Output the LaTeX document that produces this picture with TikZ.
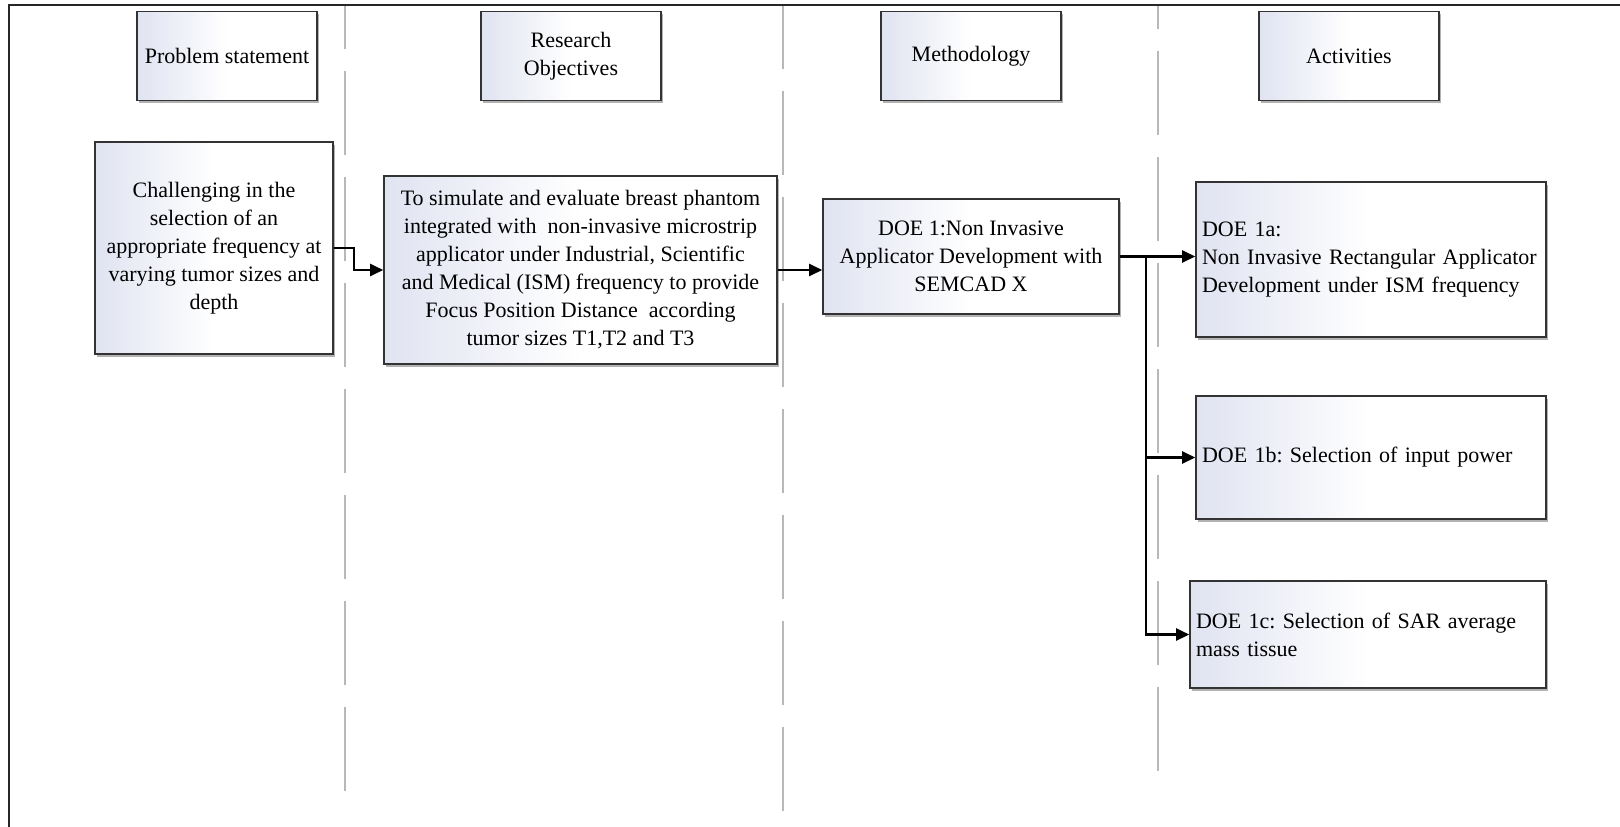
\documentclass[tikz,border=0pt]{standalone}
\usepackage{fontspec}
\setmainfont{Liberation Serif}
\usetikzlibrary{arrows.meta,shadows}

\definecolor{boxedge}{HTML}{333333}
\definecolor{boxtint}{HTML}{E0E3F1}
\definecolor{lanegray}{HTML}{B8B8B8}

\tikzset{
  panel/.style={draw=boxedge, line width=1.6pt,
    left color=boxtint, right color=white, middle color=white,
    drop shadow={shadow xshift=1.5pt, shadow yshift=-2.5pt, fill=black!60, opacity=0.5},
    font=\fontsize{22}{28}\selectfont, text=black, inner sep=6pt},
  header/.style={panel, minimum width=180pt, minimum height=89pt, align=center},
  centred/.style={panel, align=center},
  leftbox/.style={panel, align=left},
  lane/.style={draw=lanegray, line width=2pt, dash pattern=on 84pt off 22pt},
  link/.style={draw=black, line width=2.4pt, -{Triangle[length=13pt,width=12pt]}},
}

\begin{document}
\frenchspacing
\begin{tikzpicture}[x=1pt, y=-1pt]
  \useasboundingbox (0,0) rectangle (1620,827);

  % swim-lane separators
  \draw[lane, dash phase=40pt] (345,5) -- (345,797);
  \draw[lane, dash phase=20pt] (783,5) -- (783,811);
  \draw[lane, dash phase=60pt] (1158,5) -- (1158,780);

  % outer frame (left and top edges)
  \draw[line width=2.6pt, black!85] (9,827) -- (9,5) -- (1620,5);

  % column headers
  \node[header] (hps) at (227,56)  {Problem statement};
  \node[header] (hro) at (571,56)  {Research\\Objectives};
  \node[header] (hme) at (971,56)  {Methodology};
  \node[header] (hac) at (1349,56) {Activities};

  % problem statement
  \node[centred, minimum width=238pt, minimum height=212pt] (ch) at (214,248)
    {Challenging in the\\selection of an\\appropriate frequency at\\varying tumor sizes and\\depth};

  % research objective
  \node[centred, minimum width=393pt, minimum height=188pt] (ro) at (580.5,270)
    {To simulate and evaluate breast phantom\\integrated with\ \ non-invasive microstrip\\applicator under Industrial, Scientific\\and Medical (ISM) frequency to provide\\Focus Position Distance\ \ according\\tumor sizes T1,T2 and T3};

  % methodology
  \node[centred, minimum width=296pt, minimum height=115pt] (m1) at (971,256.5)
    {DOE 1:Non Invasive\\Applicator Development with\\SEMCAD X};

  % activities
  \node[leftbox, text width=338pt, minimum height=155pt] (a1) at (1371,259.5)
    {DOE 1a:\\Non Invasive Rectangular Applicator\\Development under ISM frequency};
  \node[leftbox, text width=338pt, minimum height=123pt] (b1) at (1371,457.5)
    {DOE 1b: Selection of input power};
  \node[leftbox, text width=344pt, minimum height=107pt] (c1) at (1368,634.5)
    {DOE 1c: Selection of SAR average\\mass tissue};

  % connectors
  \draw[link] (ch.east) -- ++(20,0) |- (ro.west);
  \draw[link] (ro.east) -- (ro.east -| m1.west);
  \draw[link] (m1.east) -- (m1.east -| a1.west);
  \coordinate (fork) at ([xshift=26pt]m1.east);
  \draw[link] (fork) |- (b1.west);
  \draw[link] (fork) |- (c1.west);
\end{tikzpicture}
\end{document}
